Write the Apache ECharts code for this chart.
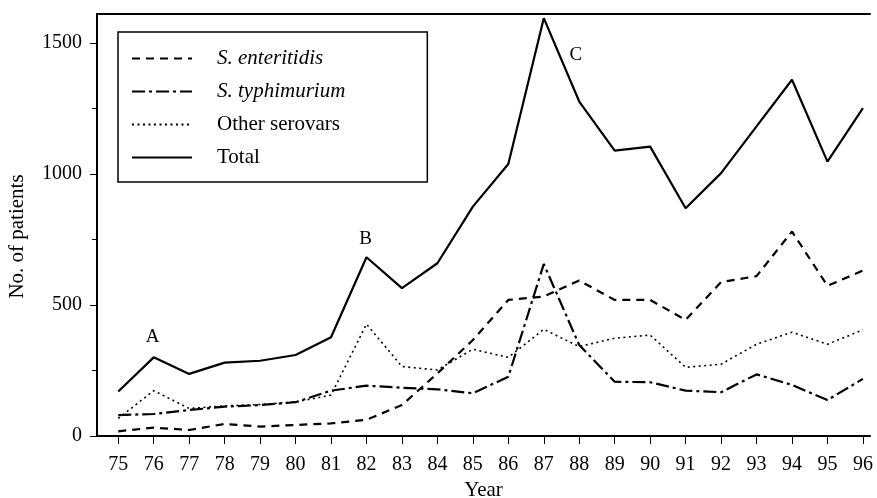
<!DOCTYPE html>
<html>
<head>
<meta charset="utf-8">
<script src="https://cdn.jsdelivr.net/npm/echarts@6/dist/echarts.min.js"></script>
<style>
  html, body { margin: 0; padding: 0; background: #fff; }
  #chart { width: 877px; height: 498px; }
</style>
</head>
<body>
<div id="chart"></div>
<script>
// data
var years = [75, 76, 77, 78, 79, 80, 81, 82, 83, 84, 85, 86, 87, 88, 89, 90, 91, 92, 93, 94, 95, 96];
var enteritidis = [18, 32, 23, 46, 36, 42, 48, 62, 118, 239, 366, 519, 532, 593, 519, 519, 443, 587, 610, 780, 573, 631];
var typhimurium = [80, 84, 99, 112, 118, 129, 173, 192, 184, 178, 163, 226, 656, 347, 207, 205, 173, 167, 235, 195, 137, 218];
var other = [67, 173, 105, 115, 120, 130, 156, 427, 265, 252, 331, 300, 407, 341, 373, 385, 262, 274, 350, 396, 350, 405];
var total = [170, 300, 237, 280, 287, 309, 377, 682, 564, 659, 875, 1038, 1594, 1276, 1089, 1104, 869, 1003, 1181, 1359, 1047, 1251];
var yLabels = [0, 500, 1000, 1500];
var yMinor = [250, 750, 1250];
var notes = [{ name: 'A', year: 76, offset: [-1, -20] }, { name: 'B', year: 82, offset: [-1, -18] }, { name: 'C', year: 87, offset: [32, 37] }];

var FONT = '"Liberation Serif", "DejaVu Serif", serif';

function pairs(vals) {
  return years.map(function (y, i) { return [y, vals[i]]; });
}

var chart = echarts.init(document.getElementById('chart'));

var lineW = 2.2;

var option = {
  backgroundColor: '#fff',
  animation: false,
  textStyle: { fontFamily: FONT, color: '#000' },
  grid: { left: 97, right: 7, top: 14, bottom: 62, outerBoundsMode: 'none', containLabel: false },
  legend: {
    orient: 'vertical',
    left: 118,
    top: 32,
    padding: [16, 82, 14, 13],
    borderColor: '#000',
    borderWidth: 1.5,
    itemWidth: 60,
    itemHeight: 14,
    itemGap: 12,
    itemStyle: { opacity: 0 },
    data: ['S. enteritidis', 'S. typhimurium', 'Other serovars', 'Total'],
    formatter: function (name) {
      return name.indexOf('S.') === 0 ? '{i|' + name + '}' : '{n|' + name + '}';
    },
    textStyle: {
      fontFamily: FONT,
      fontSize: 21,
      color: '#000',
      rich: {
        i: { fontFamily: FONT, fontSize: 21, fontStyle: 'italic', padding: [0, 0, 0, 20] },
        n: { fontFamily: FONT, fontSize: 21, padding: [0, 0, 0, 20] }
      }
    }
  },
  xAxis: [{
    type: 'value',
    min: 74.4,
    max: 96.2,
    name: 'Year',
    nameLocation: 'middle',
    nameGap: 42,
    nameTextStyle: { fontFamily: FONT, fontSize: 21, color: '#000' },
    splitLine: { show: false },
    axisLine: { lineStyle: { color: '#000', width: 2 } },
    axisTick: { customValues: years, length: 8, inside: false, lineStyle: { color: '#000', width: 1 } },
    axisLabel: {
      customValues: years,
      margin: 19,
      fontFamily: FONT,
      fontSize: 20,
      color: '#000'
    }
  }, {
    type: 'value',
    position: 'top',
    min: 74.4,
    max: 96.2,
    splitLine: { show: false },
    axisLine: { show: true, onZero: false, lineStyle: { color: '#000', width: 2 } },
    axisTick: { show: false },
    axisLabel: { show: false }
  }],
  yAxis: [{
    type: 'value',
    min: 0,
    max: 1610,
    name: 'No. of patients',
    nameLocation: 'middle',
    nameGap: 69,
    nameTextStyle: { fontFamily: FONT, fontSize: 21, color: '#000', padding: [0, 23, 0, 0] },
    splitLine: { show: false },
    axisLine: { show: true, lineStyle: { color: '#000', width: 2 } },
    axisTick: { customValues: yLabels, length: 7, lineStyle: { color: '#000', width: 1 } },
    axisLabel: {
      customValues: yLabels,
      margin: 15,
      fontFamily: FONT,
      fontSize: 20,
      color: '#000',
      formatter: function (v) { return String(v); }
    }
  }, {
    type: 'value',
    position: 'left',
    min: 0,
    max: 1610,
    splitLine: { show: false },
    axisLine: { show: false },
    axisTick: { customValues: yMinor, length: 5, lineStyle: { color: '#000', width: 1 } },
    axisLabel: { show: false }
  }],
  series: [{
    name: 'S. enteritidis',
    type: 'line',
    symbol: 'none',
    data: pairs(enteritidis),
    lineStyle: { color: '#000', width: lineW, type: [8, 6] },
    itemStyle: { color: '#000' }
  }, {
    name: 'S. typhimurium',
    type: 'line',
    symbol: 'none',
    data: pairs(typhimurium),
    lineStyle: { color: '#000', width: lineW, type: [13, 4, 3, 4] },
    itemStyle: { color: '#000' }
  }, {
    name: 'Other serovars',
    type: 'line',
    symbol: 'none',
    data: pairs(other),
    lineStyle: { color: '#000', width: 1.6, type: [2, 3.5] },
    itemStyle: { color: '#000' }
  }, {
    name: 'Total',
    type: 'line',
    symbol: 'none',
    data: pairs(total),
    lineStyle: { color: '#000', width: lineW, type: 'solid' },
    itemStyle: { color: '#000' },
    markPoint: {
      symbol: 'circle',
      symbolSize: 1,
      itemStyle: { color: 'rgba(0,0,0,0)' },
      label: { show: true, position: 'inside', fontFamily: FONT, fontSize: 19, color: '#000' },
      data: notes.map(function (n) {
        return {
          coord: [n.year, total[years.indexOf(n.year)]],
          label: { formatter: n.name, offset: n.offset }
        };
      })
    }
  }]
};

chart.setOption(option);
</script>
</body>
</html>
